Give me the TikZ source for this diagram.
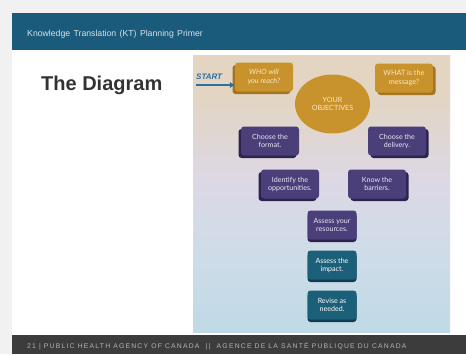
\documentclass[tikz,border=0pt]{standalone}
\usepackage{fontspec}
\setmainfont{Liberation Sans}
\newfontfamily\boxfont{Lato}
\newfontfamily\headfont[WordSpace=1.4]{Liberation Sans}
\newfontfamily\footfont[LetterSpace=18]{Liberation Sans}
\usetikzlibrary{shadows,arrows.meta,shapes.geometric}

\definecolor{pagegray}{HTML}{F1F1F1}
\definecolor{headblue}{HTML}{1A5B7C}
\definecolor{headtext}{HTML}{D6E2EA}
\definecolor{titlegray}{HTML}{333333}
\definecolor{footgray}{HTML}{3C3C3C}
\definecolor{foottext}{HTML}{B4B4B4}
\definecolor{panbeige}{HTML}{E3D5C2}
\definecolor{panlav}{HTML}{DCD8E5}
\definecolor{panmid}{HTML}{CFDCE8}
\definecolor{panblue}{HTML}{BFDAE6}
\definecolor{goldface}{HTML}{C8922C}
\definecolor{goldedge}{HTML}{A47420}
\definecolor{goldtext}{HTML}{F7E9C8}
\definecolor{purpface}{HTML}{4B3F7A}
\definecolor{purpedge}{HTML}{2C2350}
\definecolor{purptext}{HTML}{ECE8F6}
\definecolor{tealface}{HTML}{1C5F79}
\definecolor{tealedge}{HTML}{0F3C50}
\definecolor{startblue}{HTML}{2B6FA3}

% vertical panel gradient: beige on top, lavender, light blue below
\pgfdeclareverticalshading{panelshade}{100bp}{
  color(0bp)=(panblue); color(25bp)=(panblue); color(40bp)=(panmid);
  color(52bp)=(panlav); color(68bp)=(panbeige); color(100bp)=(panbeige)}

\begin{document}
\begin{tikzpicture}[x=1pt,y=-1pt,
  kbox/.style={rounded corners=3pt, inner sep=0pt, align=center,
    minimum width=58pt, minimum height=29pt,
    font=\boxfont\fontsize{7.1}{8}\selectfont},
  goldbox/.style={kbox, fill=goldface, text=goldtext,
    drop shadow={shadow xshift=#1, shadow yshift=-2.5pt, fill=goldedge, opacity=1}},
  purpbox/.style={kbox, fill=purpface, text=purptext,
    drop shadow={shadow xshift=#1, shadow yshift=-2.5pt, fill=purpedge, opacity=1}},
  tealbox/.style={kbox, fill=tealface, text=white, minimum width=49pt,
    drop shadow={shadow xshift=0pt, shadow yshift=-2.5pt, fill=tealedge, opacity=1}},
]
\useasboundingbox (0,0) rectangle (466,354);

% page and slide
\fill[pagegray] (0,0) rectangle (466,354);
\fill[white] (12,13) rectangle (466,354);
\fill[headblue] (12,13) rectangle (466,50);
\node[anchor=west, text=headtext, inner sep=0pt,
  font=\headfont\fontsize{8.7}{9}\selectfont] (hdr) at (27,34.5)
  {Knowledge Translation (KT) Planning Primer};
\node[anchor=base west, inner sep=0pt, text=titlegray,
  font=\bfseries\fontsize{20}{20}\selectfont] (title) at (41,90) {The Diagram};

% footer
\fill[footgray] (12,335) rectangle (466,354);
\node[anchor=west, inner sep=0pt, text=foottext,
  font=\footfont\fontsize{6.8}{7}\selectfont] (foot) at (27,346.5)
  {21 | PUBLIC HEALTH AGENCY OF CANADA \ || \ AGENCE DE LA SANTÉ PUBLIQUE DU CANADA};

% diagram panel
\shade[shading=panelshade] (193,55) rectangle (450,332);

% objectives
\node[ellipse, fill=goldface, text=goldtext, minimum width=75pt, minimum height=59pt,
  inner sep=0pt, align=center, font=\boxfont\fontsize{7.2}{8.4}\selectfont]
  (obj) at (332.5,104) {YOUR\\OBJECTIVES};

% gold question boxes
\node[goldbox=-2.5pt, font=\boxfont\itshape\fontsize{7.3}{8.3}\selectfont] (who) at (264,77) {WHO will\\you reach?};
\node[goldbox=2.5pt, font=\boxfont\fontsize{7.3}{8.3}\selectfont] (what) at (404,78) {WHAT is the\\message?};

% purple planning boxes
\node[purpbox=-2.5pt] (format) at (270,141) {Choose the\\format.};
\node[purpbox=2.5pt] (delivery) at (397,141) {Choose the\\delivery.};
\node[purpbox=-2.5pt] (opps) at (290,184) {Identify the\\opportunities.};
\node[purpbox=2.5pt] (barriers) at (377,184) {Know the\\barriers.};
\node[purpbox=0pt, minimum width=49pt] (resources) at (332,225) {Assess your\\resources.};

% teal evaluation boxes
\node[tealbox] (impact) at (332,265) {Assess the\\impact.};
\node[tealbox] (revise) at (332,305) {Revise as\\needed.};

% start marker
\node[anchor=base west, inner sep=0pt, text=startblue,
  font=\bfseries\itshape\fontsize{8}{8}\selectfont] (start) at (196,79) {START};
\coordinate (startarr) at (196,85);
\draw[startblue, line width=2.4pt, -{Latex[length=5pt,width=6.5pt]}]
  (startarr) -- (startarr -| who.west);
\end{tikzpicture}
\end{document}
